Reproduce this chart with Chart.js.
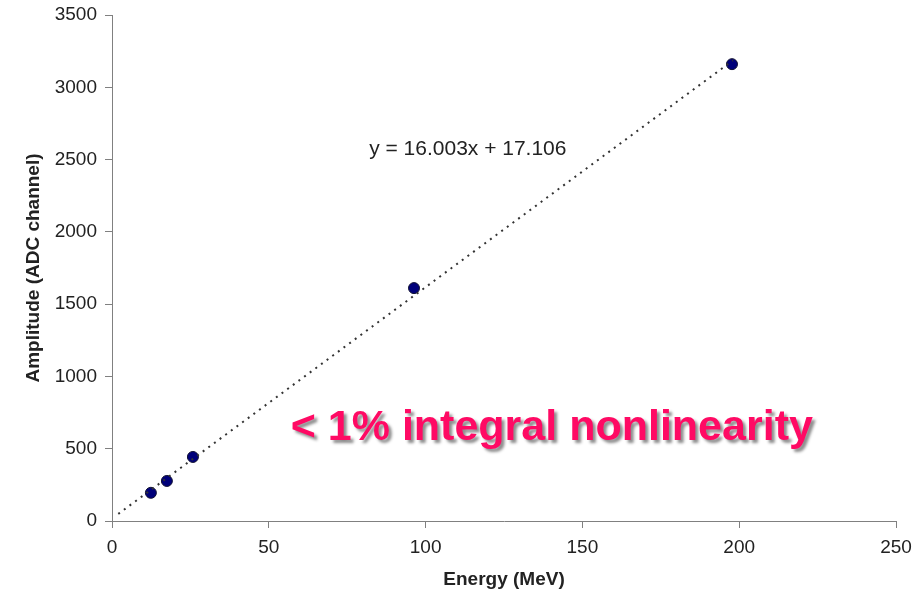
<!DOCTYPE html>
<html>
<head>
<meta charset="utf-8">
<script src="https://cdn.jsdelivr.net/npm/chart.js@4/dist/chart.umd.min.js"></script>
<style>
html,body{margin:0;padding:0;background:#fff;}
#wrap{width:919px;height:595px;position:relative;}
</style>
</head>
<body>
<div id="wrap"><canvas id="c" width="919" height="595"></canvas></div>
<script>
const energy = [12.4, 17.5, 25.8, 96.3, 197.7];
const amplitude = [195, 277, 443, 1611, 3160];
const trendX = [2, 198];
const trendY = [49, 3186];
const xTicks = [0, 50, 100, 150, 200, 250];
const yTicks = [0, 500, 1000, 1500, 2000, 2500, 3000, 3500];
const fitLabel = 'y = 16.003x + 17.106';
const noteLabel = '< 1% integral nonlinearity';

const FONT = '"Liberation Sans", Arial, sans-serif';

const textPlugin = {
  id: 'notes',
  afterDatasetsDraw(chart) {
    const ctx = chart.ctx;
    const xs = chart.scales.x, ys = chart.scales.y;
    ctx.save();
    ctx.font = '21px ' + FONT;
    ctx.fillStyle = '#222';
    ctx.textAlign = 'left';
    ctx.textBaseline = 'middle';
    ctx.fillText(fitLabel, xs.getPixelForValue(82), ys.getPixelForValue(2570));
    ctx.font = 'bold 43px ' + FONT;
    ctx.shadowColor = 'rgba(0,0,0,0.45)';
    ctx.shadowOffsetX = 3;
    ctx.shadowOffsetY = 3;
    ctx.shadowBlur = 3;
    ctx.fillStyle = '#FF0A64';
    ctx.fillText(noteLabel, xs.getPixelForValue(57.0), ys.getPixelForValue(642));
    ctx.restore();
  }
};

new Chart(document.getElementById('c'), {
  type: 'scatter',
  data: {
    datasets: [
      {
        type: 'line',
        data: trendX.map((x, i) => ({x, y: trendY[i]})),
        borderColor: '#333',
        borderWidth: 2,
        borderDash: [2, 5],
        pointRadius: 0,
        fill: false
      },
      {
        data: energy.map((x, i) => ({x, y: amplitude[i]})),
        backgroundColor: '#00007A',
        borderColor: '#111133',
        borderWidth: 1,
        pointRadius: 5.5,
        pointStyle: 'circle'
      }
    ]
  },
  options: {
    responsive: false,
    animation: false,
    layout: {padding: {top: 15, right: 23, left: 18, bottom: 0}},
    plugins: {legend: {display: false}, tooltip: {enabled: false}},
    scales: {
      x: {
        type: 'linear', min: 0, max: 250,
        afterBuildTicks: s => { s.ticks = xTicks.map(v => ({value: v})); },
        afterFit: s => { s.height = 74; s.paddingRight = 0; s.paddingLeft = 0; },
        grid: {drawOnChartArea: false, tickLength: 7, color: '#808080'},
        border: {color: '#808080', width: 1},
        ticks: {font: {size: 19, family: FONT}, color: '#222', padding: 8, callback: v => String(v)},
        title: {display: true, text: 'Energy (MeV)', font: {size: 19, weight: 'bold', family: FONT}, color: '#222', padding: {top: 6}}
      },
      y: {
        type: 'linear', min: 0, max: 3500,
        afterBuildTicks: s => { s.ticks = yTicks.map(v => ({value: v})); },
        afterFit: s => { s.width = 94; s.paddingTop = 0; s.paddingBottom = 0; },
        grid: {drawOnChartArea: false, tickLength: 7, color: '#808080'},
        border: {color: '#808080', width: 1},
        ticks: {font: {size: 19, family: FONT}, color: '#222', padding: 8, callback: v => String(v)},
        title: {display: true, text: 'Amplitude (ADC channel)', font: {size: 19, weight: 'bold', family: FONT}, color: '#222', padding: {bottom: 4}}
      }
    }
  },
  plugins: [textPlugin]
});
</script>
</body>
</html>
